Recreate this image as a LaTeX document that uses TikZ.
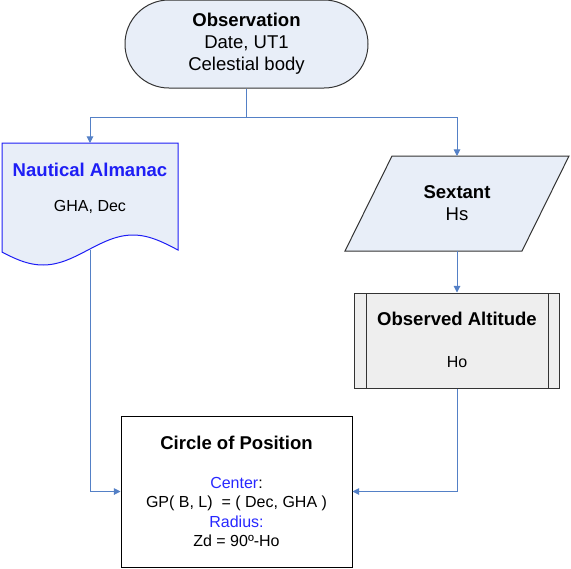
\documentclass[tikz,border=0pt]{standalone}
\usepackage{fontspec}
\setmainfont{Liberation Sans}
\usepackage{xcolor}
\usetikzlibrary{arrows.meta}
\definecolor{boxfill}{RGB}{232,238,248}
\definecolor{greyfill}{RGB}{238,238,238}
\definecolor{linkblue}{RGB}{84,128,198}
\definecolor{almanacblue}{RGB}{30,30,245}
\definecolor{labelblue}{RGB}{40,40,255}

\begin{document}
\begin{tikzpicture}[x=0.75pt,y=-0.75pt,
        big/.style={font=\fontsize{13.9}{16.5}\selectfont},
        small/.style={font=\fontsize{12}{14.5}\selectfont},
        line/.style={draw=linkblue,line width=0.75pt},
        link/.style={line,-{Triangle[length=5pt,width=5pt]}}]
        \useasboundingbox (0,0) rectangle (571,568);
        % start
        \node[draw=black!80,fill=boxfill,line width=0.75pt,rounded corners=32.9pt,
            minimum width=182.25pt,minimum height=66pt,align=center,big]
            (observation) at (246.5,44) {\textbf{Observation}\\Date, UT1\\Celestial body};
        % almanac (document shape)
        \draw[draw=almanacblue,fill=boxfill,line width=0.75pt] (2,143) -- (178,143)
            -- plot[domain=178:2,samples=60] (\x,{250+15*cos(2*(\x-43))}) -- cycle;
        \node[big,text=almanacblue] (almanacTitle) at (90,170) {\textbf{Nautical Almanac}};
        \node[small] (almanacData) at (90,207) {GHA, Dec};
        \coordinate (almanacTop) at (90,143);
        \coordinate (almanacFoot) at (90,250);
        % sextant (input)
        \draw[draw=black!80,fill=boxfill,line width=0.75pt]
            (392,156) -- (569,156) -- (522,251) -- (345,251) -- cycle;
        \node[big,align=center] (sextant) at (457,203) {\textbf{Sextant}\\Hs};
        \coordinate (sextantTop) at (457,156);
        \coordinate (sextantFoot) at (457,251);
        % observed altitude (process)
        \node[draw=black!80,fill=greyfill,line width=0.75pt,
            minimum width=153.75pt,minimum height=71.25pt] (observed) at (457,340.5) {};
        \draw[black!80,line width=0.75pt] (366,293) -- (366,388) (548,293) -- (548,388);
        \node[big] (observedTitle) at (457,319) {\textbf{Observed Altitude}};
        \node[small] (observedData) at (457,362) {Ho};
        % result
        \node[draw=black,fill=white,line width=0.75pt,
            minimum width=173.25pt,minimum height=113.25pt] (circle) at (236.5,491.5) {};
        \node[big] (circleTitle) at (236.5,443) {\textbf{Circle of Position}};
        \node[small,align=center] (circleData) at (236.5,512)
            {\textcolor{labelblue}{Center}:\\GP( B, L)~ = ( Dec, GHA )\\
             \textcolor{labelblue}{Radius:}\\Zd = 90º-Ho};
        % connectors
        \coordinate (split) at (246.5,117);
        \draw[line] (observation.south) -- (split);
        \draw[link] (split) -| (almanacTop);
        \draw[link] (split) -| (sextantTop);
        \draw[link] (sextantFoot) -- (observed.north);
        \draw[link] (almanacFoot) |- (circle.west);
        \draw[link] (observed.south) |- (circle.east);
    \end{tikzpicture}
\end{document}
